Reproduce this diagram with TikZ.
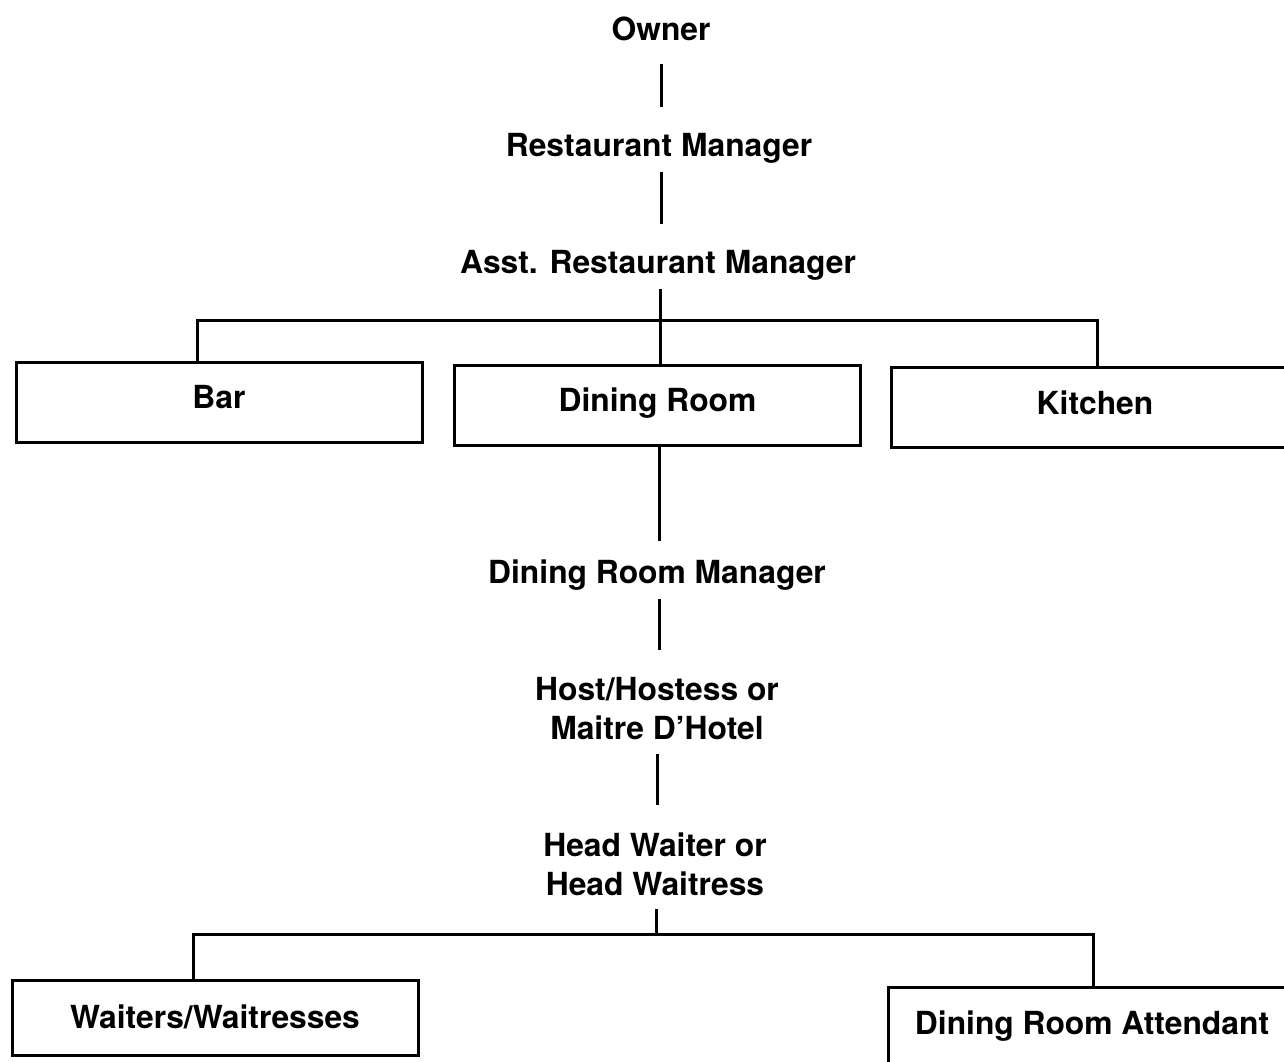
\documentclass[tikz,border=0pt]{standalone}
\usepackage{fontspec}
\setmainfont{TeX Gyre Heros}
\begin{document}
\begin{tikzpicture}[x=1pt,y=-1pt,
  line width=3pt,
  title/.style={inner sep=0pt, anchor=base, text height=23pt, text depth=7pt,
    font=\fontsize{31.8}{39}\selectfont\bfseries},
  twoline/.style={inner sep=0pt, anchor=north, align=center,
    font=\fontsize{31.8}{39}\selectfont\bfseries},
  unit/.style={draw, line width=3pt, inner sep=0pt, minimum width=406pt,
    minimum height=80pt, text height=23pt, text depth=7pt,
    font=\fontsize{31.8}{39}\selectfont\bfseries}]
\useasboundingbox (0,0) rectangle (1284,1061);
\clip (0,0) rectangle (1284,1061);

% upper chain of command
\node[title] (owner) at (661,40) {Owner};
\node[title] (rm)    at (659,156) {Restaurant Manager};
\node[title] (arm)   at (658,273) {Asst. Restaurant Manager};

% departments
\node[unit, text depth=11pt] (bar)     at (219,402)  {Bar};
\node[unit, text depth=11pt] (dining)  at (657.5,405.5) {Dining Room};
\node[unit, text depth=9pt, minimum width=408pt] (kitchen) at (1095,407) {Kitchen};

% dining room staff
\node[title]   (drm)   at (657,583) {Dining Room Manager};
\node[twoline] (host)  at (657,676) {Host/Hostess or\\Maitre D'Hotel};
\node[twoline] (head)  at (655,831) {Head Waiter or\\Head Waitress};

\node[unit, text height=28pt, minimum height=75pt] (waiters) at (215,1017.5) {Waiters/Waitresses};
\node[unit, text depth=9pt, minimum width=408pt] (attendant) at (1092,1027) {Dining Room Attendant};

% bus lines
\coordinate (busL) at (197,320);
\coordinate (busR) at (1097,320);
\coordinate (busL2) at (193,934);
\coordinate (busR2) at (1093,934);

% connectors
\draw[shorten <=15pt, shorten >=25pt] (owner.south -| 661,0) -- (rm.north -| 661,0);
\draw[shorten <=7pt, shorten >=25pt] (rm.south -| 661,0) -- (arm.north -| 661,0);
\draw[shorten <=7pt] (arm.south -| 660,0) -- (dining.north -| 660,0);
\draw (bar.north -| busL) -- (busL) -- (busR) -- (kitchen.north -| busR);
\draw[shorten >=18pt] (dining.south -| 659,0) -- (drm.north -| 659,0);
\draw[shorten <=7pt, shorten >=26pt] (drm.south -| 659,0) -- (host.north -| 659,0);
\draw[shorten <=13pt, shorten >=26pt] (host.south -| 657,0) -- (head.north -| 657,0);
\draw[shorten <=12pt] (head.south -| 656,0) -- (busL2 -| 656,0);
\draw (waiters.north -| busL2) -- (busL2) -- (busR2) -- (attendant.north -| busR2);
\end{tikzpicture}
\end{document}
